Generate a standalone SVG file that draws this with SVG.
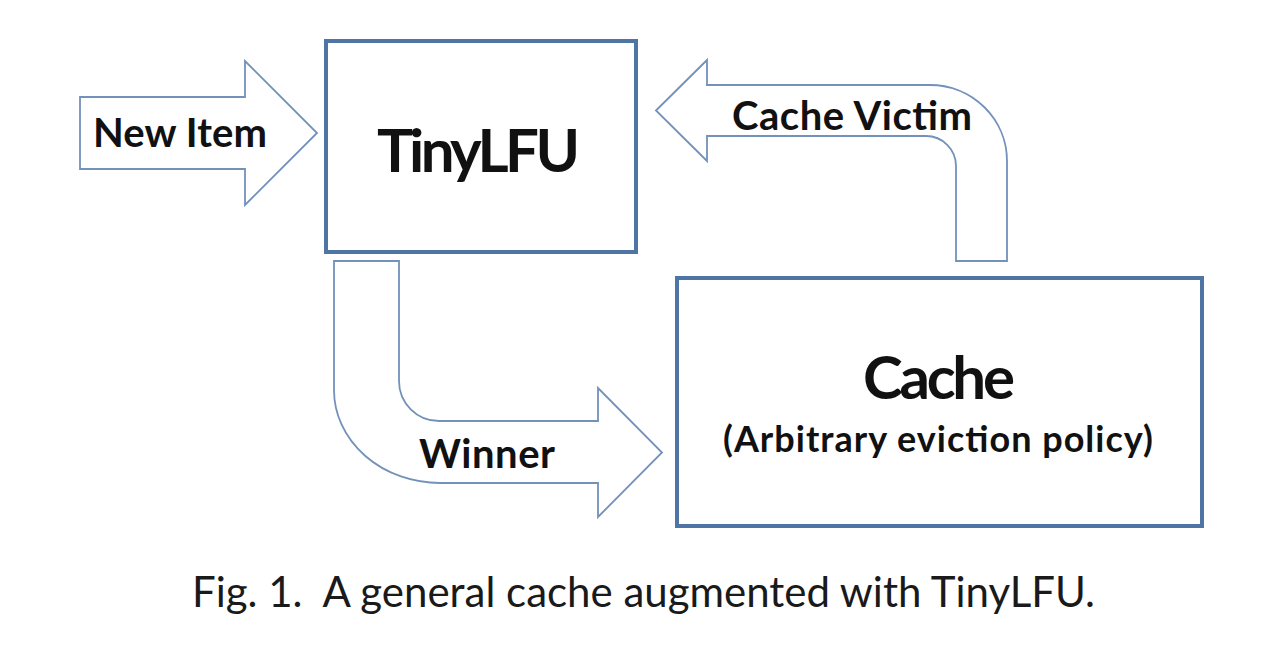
<svg xmlns="http://www.w3.org/2000/svg" width="1280" height="656" viewBox="0 0 1280 656">
<style>
.box{fill:#fff;stroke:#4f75a6;stroke-width:4}
.arr{fill:#fff;stroke:#7391bb;stroke-width:1.8;stroke-linejoin:miter}
.lbl{font-family:Lato,"Open Sans",sans-serif;font-weight:bold;fill:#111}
.cap{font-family:Lato,"Noto Sans",sans-serif;fill:#1a1a1a}
</style>
<rect width="1280" height="656" fill="#fff"/>
<g id="connectors">
<g id="new-item">
<path class="arr" d="M80,97 H245 V61 L317,133 L245,205 V169 H80 Z"/>
<text class="lbl" x="93" y="147" font-size="40" textLength="174">New Item</text>
</g>
<g id="cache-victim">
<path class="arr" d="M656,110.5 L707,60 V85 H930 A77,76 0 0 1 1007,161 V261 H956 V166 A30,30 0 0 0 926,136 H707 V161 Z"/>
<text class="lbl" x="732" y="130" font-size="40" textLength="240">Cache Victim</text>
</g>
<g id="winner">
<path class="arr" d="M334,261 H399 V381 A40,40 0 0 0 439,421 H598 V388 L662,452.5 L598,517 V483 H440 A106,93 0 0 1 334,390 Z"/>
<text class="lbl" x="419" y="468" font-size="40" textLength="136">Winner</text>
</g>
</g>
<g id="tinylfu">
<rect class="box" x="326" y="41" width="310" height="211"/>
<text class="lbl" x="377" y="172" font-size="60" textLength="203">TinyLFU</text>
</g>
<g id="cache">
<rect class="box" x="677" y="278" width="525" height="248"/>
<text class="lbl" x="863" y="399" font-size="60" textLength="152">Cache</text>
<text class="lbl" x="723" y="452" font-size="36" textLength="430">(Arbitrary eviction policy)</text>
</g>
<text class="cap" x="192" y="607" font-size="42" textLength="903" xml:space="preserve">Fig. 1.  A general cache augmented with TinyLFU.</text>
</svg>
